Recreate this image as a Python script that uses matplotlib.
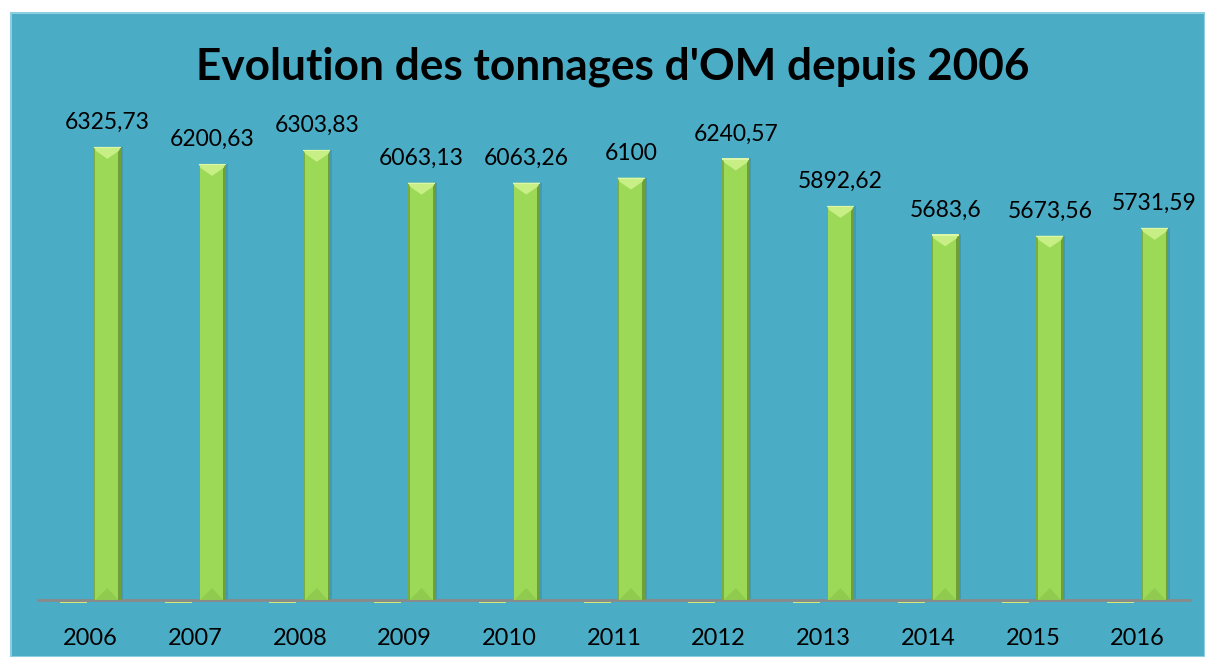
import matplotlib
matplotlib.use("Agg")
import matplotlib.pyplot as plt
from matplotlib.patches import Rectangle, Polygon

years = ["2006", "2007", "2008", "2009", "2010", "2011", "2012", "2013", "2014", "2015", "2016"]
tonnages = [6325.73, 6200.63, 6303.83, 6063.13, 6063.26, 6100, 6240.57, 5892.62, 5683.6, 5673.56, 5731.59]
labels = ["6325,73", "6200,63", "6303,83", "6063,13", "6063,26", "6100", "6240,57", "5892,62", "5683,6", "5673,56", "5731,59"]
title = "Evolution des tonnages d'OM depuis 2006"

W, H = 1205, 657
fig = plt.figure(figsize=(W / 100, H / 100), dpi=100)
fig.patch.set_facecolor("white")

# teal panel
bg = fig.add_axes([0, 0, 1, 1])
bg.set_xlim(0, W); bg.set_ylim(H, 0); bg.axis("off")
bg.add_patch(Rectangle((11, 13), W - 11, H - 13, facecolor="#4bacc6", edgecolor="#8ccfe0", lw=1.5))

fig.text(613 / W, 1 - 67 / H, title, ha="center", va="center", fontsize=31.8,
         fontweight="bold", family=["Lato", "DejaVu Sans"], color="black")

ax_l, ax_r = 38, 1190
ax_bot, ax_top = 600, 55
ax = fig.add_axes([ax_l / W, 1 - ax_bot / H, (ax_r - ax_l) / W, (ax_bot - ax_top) / H])
ax.set_facecolor("none")
n = len(years)
ax.set_xlim(-0.5, n - 0.5)
ymin, ymax = 3000, 7000
ax.set_ylim(ymin, ymax)
for s in ["top", "right", "left"]:
    ax.spines[s].set_visible(False)
ax.spines["bottom"].set_color("#8a8a8a")
ax.spines["bottom"].set_linewidth(2)
ax.set_yticks([])
ax.set_xticks(range(n))
ax.set_xticklabels(years, fontsize=17, family=["Lato", "DejaVu Sans"])
ax.tick_params(axis="x", length=0, pad=20)

pxx = 1.0 / ((ax_r - ax_l) / n)      # x data units per pixel
pxy = (ymax - ymin) / (ax_bot - ax_top)  # y data units per pixel

off = 17 * pxx
bw = 27 * pxx
xs = [i + off for i in range(n)]

# second (empty) series: small marks at baseline
for i in range(n):
    ax.add_patch(Rectangle((i - off - bw / 2, ymin - 3.5 * pxy), bw, 1.8 * pxy,
                           facecolor="#d6e878", edgecolor="none", clip_on=False, zorder=1))

bars = ax.bar(xs, [v - ymin for v in tonnages], bottom=ymin, width=bw,
              color="#9bd957", edgecolor="none", zorder=3)

for x, v, lab in zip(xs, tonnages, labels):
    x0, x1 = x - bw / 2, x + bw / 2
    # shadow on right
    ax.add_patch(Rectangle((x1, ymin), 2 * pxx, v - ymin, facecolor="#3f8ea3", edgecolor="none", zorder=2, alpha=0.6))
    # dark edges
    ax.add_patch(Rectangle((x0, ymin), 1.5 * pxx, v - ymin, facecolor="#7aad40", edgecolor="none", zorder=4))
    ax.add_patch(Rectangle((x1 - 2.5 * pxx, ymin), 2.5 * pxx, v - ymin, facecolor="#6f9f38", edgecolor="none", zorder=4))
    # top chevron
    ax.add_patch(Polygon([(x0, v), (x1, v), (x1 - 2 * pxx, v - 4 * pxy), (x, v - 12 * pxy), (x0 + 2 * pxx, v - 4 * pxy)],
                         closed=True, facecolor="#c8ef86", edgecolor="none", zorder=5))
    ax.add_patch(Rectangle((x0, v - 1.5 * pxy), bw, 1.5 * pxy, facecolor="#ddf7a8", edgecolor="none", zorder=6))
    # bottom chevron
    ax.add_patch(Polygon([(x0 + 1.5 * pxx, ymin), (x1 - 2.5 * pxx, ymin), (x, ymin + 12 * pxy)],
                         closed=True, facecolor="#90cb50", edgecolor="none", zorder=5))
    ax.text(x, v + 14 * pxy, lab, ha="center", va="bottom", fontsize=16.5,
            family=["Lato", "DejaVu Sans"], color="black", zorder=7)

fig.savefig("out.png", dpi=100)
